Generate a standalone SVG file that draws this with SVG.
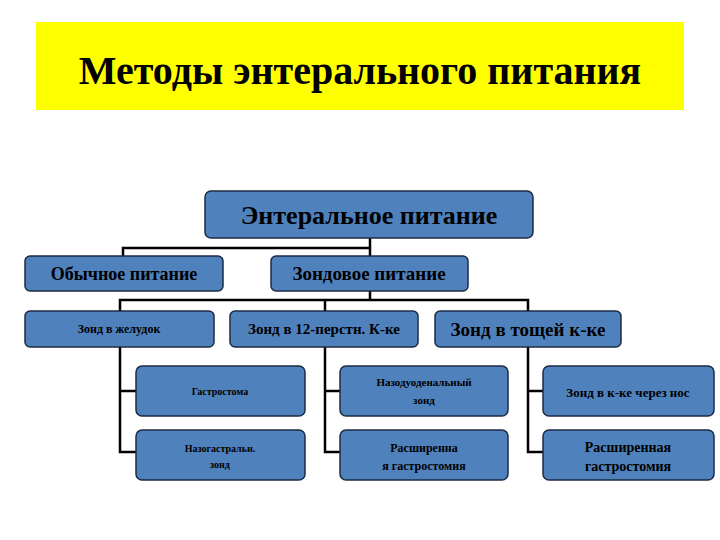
<svg xmlns="http://www.w3.org/2000/svg" width="720" height="540" viewBox="0 0 720 540">
<style>
.b{fill:#4f81bd;stroke:#1c2b44;stroke-width:1.5}
.t{font-family:"Liberation Serif",serif;font-weight:bold;fill:#000;text-anchor:middle}
.c{fill:none;stroke:#000;stroke-width:2.5}
</style>
<rect width="720" height="540" fill="#fff"/>
<g id="title"><rect x="36" y="22" width="648" height="88" fill="#ffff00"/>
<text class="t" x="360" y="84" font-size="40">Методы энтерального питания</text></g>
<g id="connectors">
<path class="c" d="M370 238V248M123 256V248H370V256"/>
<path class="c" d="M370 291V300M120 311V300H528V311M325 300V311"/>
<path class="c" d="M120 347V452H136M120 391H136M325 347V452H340M325 391H340M528 347V452H543M528 391H543"/>
</g>
<g id="root"><rect class="b" x="205" y="191" width="328" height="47" rx="6"/><text class="t" x="369" y="224" font-size="26" font-weight="normal">Энтеральное питание</text></g>
<g id="n1"><rect class="b" x="25" y="256" width="198" height="35" rx="5"/><text class="t" x="124" y="280" font-size="18">Обычное питание</text></g>
<g id="n2"><rect class="b" x="271" y="256" width="197" height="35" rx="5"/><text class="t" x="369" y="280" font-size="19" font-weight="normal">Зондовое питание</text></g>
<g id="n3"><rect class="b" x="25" y="311" width="189" height="36" rx="5"/><text class="t" x="119" y="333" font-size="12">Зонд в желудок</text></g>
<g id="n4"><rect class="b" x="230" y="311" width="188" height="36" rx="5"/><text class="t" x="324" y="334" font-size="15">Зонд в 12-перстн. К-ке</text></g>
<g id="n5"><rect class="b" x="435" y="311" width="186" height="36" rx="5"/><text class="t" x="528" y="336" font-size="19">Зонд в тощей  к-ке</text></g>
<g id="n6"><rect class="b" x="136" y="366" width="169" height="50" rx="6"/><text class="t" x="220" y="395" font-size="10">Гастростома</text></g>
<g id="n7"><rect class="b" x="136" y="430" width="169" height="50" rx="6"/><text class="t" x="220" y="452" font-size="10">Назогастральн.</text><text class="t" x="220" y="468" font-size="10">зонд</text></g>
<g id="n8"><rect class="b" x="340" y="366" width="168" height="50" rx="6"/><text class="t" x="424" y="386" font-size="11">Назодуоденальный</text><text class="t" x="424" y="404" font-size="11">зонд</text></g>
<g id="n9"><rect class="b" x="340" y="430" width="168" height="50" rx="6"/><text class="t" x="424" y="452" font-size="12">Расширенна</text><text class="t" x="424" y="470" font-size="12">я гастростомия</text></g>
<g id="n10"><rect class="b" x="543" y="366" width="171" height="50" rx="6"/><text class="t" x="628" y="397" font-size="13">Зонд в к-ке через нос</text></g>
<g id="n11"><rect class="b" x="543" y="430" width="171" height="50" rx="6"/><text class="t" x="628" y="452" font-size="14">Расширенная</text><text class="t" x="628" y="471" font-size="14">гастростомия</text></g>
</svg>
